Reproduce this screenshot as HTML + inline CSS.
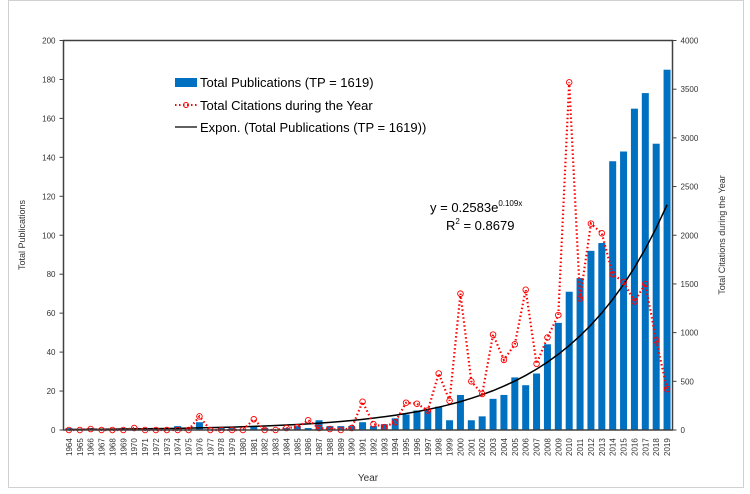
<!DOCTYPE html>
<html><head><meta charset="utf-8"><style>
body{margin:0;background:#fff;}
svg{font-family:"Liberation Sans",sans-serif;}
</style></head><body>
<svg id="chart" width="750" height="489" xmlns="http://www.w3.org/2000/svg">
<rect x="8.5" y="0.5" width="735" height="487" fill="#fff" stroke="#d0d0d0"/>
<g id="grid"></g>
<g id="bars"></g>
<g id="trend"></g>
<g id="cites"></g>
<rect x="63.5" y="40.5" width="609" height="389.5" fill="none" stroke="#404040" stroke-width="1.5"/>
<g id="axes" font-size="8" fill="#333"></g>
<text x="25" y="235" font-size="9" fill="#333" text-anchor="middle" transform="rotate(-90 25 235)">Total Publications</text>
<text x="725" y="235" font-size="9" fill="#333" text-anchor="middle" transform="rotate(-90 725 235)">Total  Citations during the Year</text>
<text x="368" y="481" font-size="10" fill="#333" text-anchor="middle">Year</text>
<g>
<rect x="175" y="78" width="22" height="9" fill="#0070c0"/>
<text x="200" y="87" font-size="13" fill="#000">Total Publications (TP = 1619)</text>
<line x1="175" y1="105" x2="197" y2="105" stroke="#ff0000" stroke-width="2" stroke-dasharray="1.5,2.5"/>
<circle cx="186" cy="105" r="2.5" fill="none" stroke="#ff0000"/>
<text x="200" y="110" font-size="13" fill="#000">Total Citations during the Year</text>
<line x1="175" y1="127" x2="197" y2="127" stroke="#000" stroke-width="1.2"/>
<text x="200" y="132" font-size="13" fill="#000">Expon. (Total Publications (TP = 1619))</text>
</g>
<text x="430" y="212" font-size="13" fill="#000">y = 0.2583e<tspan font-size="8" dy="-6">0.109x</tspan></text>
<text x="446" y="230" font-size="13" fill="#000">R<tspan font-size="8" dy="-6">2</tspan><tspan dy="6"> = 0.8679</tspan></text>
</svg>
<script>
const years=[1964,1965,1966,1967,1968,1969,1970,1971,1972,1973,1974,1975,1976,1977,1978,1979,1980,1981,1982,1983,1984,1985,1986,1987,1988,1989,1990,1991,1992,1993,1994,1995,1996,1997,1998,1999,2000,2001,2002,2003,2004,2005,2006,2007,2008,2009,2010,2011,2012,2013,2014,2015,2016,2017,2018,2019];
const publications=[1,0,1,0,0,1,1,1,0,0,2,0,4,0,1,1,0,2,1,0,1,2,1,5,2,2,2,4,2,3,6,8,10,10,12,5,18,5,7,16,18,27,23,29,44,55,71,78,92,96,138,143,165,173,147,185];
const citations=[0,0,10,0,0,0,20,0,0,0,0,0,140,0,0,0,0,110,0,0,20,30,100,20,10,0,20,290,60,30,80,280,270,200,580,300,1400,500,370,980,720,880,1440,680,950,1180,3570,1350,2120,2020,1600,1520,1320,1500,920,420];
const leftTicks=[0,20,40,60,80,100,120,140,160,180,200];
const rightTicks=[0,500,1000,1500,2000,2500,3000,3500,4000];
const trendA=0.2583, trendB=0.109;
const NS="http://www.w3.org/2000/svg";
const X0=63.5,X1=672.5,Y0=430,Y1=40.5;
const slot=(X1-X0)/years.length;
const xc=i=>X0+slot*(i+0.5);
const yL=v=>Y0-v/200*(Y0-Y1);
const yR=v=>Y0-v/4000*(Y0-Y1);
function mk(tag,attrs,parent){const e=document.createElementNS(NS,tag);for(const k in attrs)e.setAttribute(k,attrs[k]);document.getElementById(parent).appendChild(e);return e;}
const axes='axes';
leftTicks.forEach(t=>{
 const y=yL(t);
 const l=mk('line',{x1:X0-4,x2:X0,y1:y,y2:y,stroke:'#404040'},axes);
 
 
 const tx=mk('text',{x:X0-8,y:y+3,'text-anchor':'end'},axes);tx.textContent=t;
 
 
});
rightTicks.forEach(t=>{
 const y=yR(t);
 const l=mk('line',{x1:X1,x2:X1+4,y1:y,y2:y,stroke:'#404040'},axes);
 
 
 const tx=mk('text',{x:X1+8,y:y+3},axes);tx.textContent=t;
 
 
});
years.forEach((yr,i)=>{
 const tx=mk('text',{x:0,y:0,transform:`translate(${xc(i)+3},${Y0+26}) rotate(-90)`},axes);tx.textContent=yr;
 
 
 const b=mk('rect',{x:xc(i)-3.5,y:yL(publications[i]),width:7,height:Y0-yL(publications[i]),fill:'#0070c0'},'bars');
 
 
});
let d='';
years.forEach((yr,i)=>{const v=trendA*Math.exp(trendB*(i+1));d+=(i?'L':'M')+xc(i)+','+yL(v);});
const tp=mk('path',{d:d,fill:'none',stroke:'#000','stroke-width':1.5},'trend');


let dc='';
citations.forEach((v,i)=>{dc+=(i?'L':'M')+xc(i)+','+yR(v);});
const cp=mk('path',{d:dc,fill:'none',stroke:'#ff0000','stroke-width':2.2,'stroke-dasharray':'1.5,2.5'},'cites');


citations.forEach((v,i)=>{
 const c=mk('circle',{cx:xc(i),cy:yR(v),r:2.8,fill:'none',stroke:'#ff0000','stroke-width':0.9},'cites');
 
 
});
</script>
</body></html>
